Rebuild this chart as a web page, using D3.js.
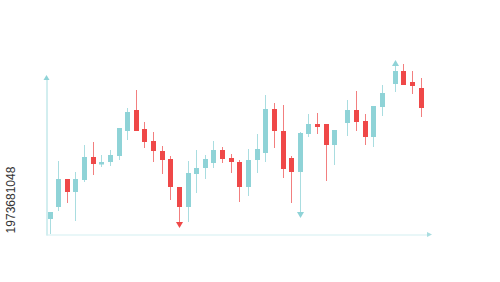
<!DOCTYPE html>
<html>
<head>
<meta charset="utf-8">
<script src="https://cdn.jsdelivr.net/npm/d3@7"></script>
<style>
  body { margin: 0; background: #fff; }
  svg { display: block; }
</style>
</head>
<body>
<div id="chart"></div>
<script>
// candle slots (trading days; two short breaks in the series)
var slots = [0,1,2,3,4,5,6,7,8,9,10,11,12,13,14,15,16,17,18,19,20,21,22,23,24,25,26,27,28,29,30,31,32,33,
             34.5,35.5,36.5,37.5,38.5,40,41,42,43];
var opens  = [21,33,61,48,60,83,75.5,78,84,109,130,111,99,89,81,53,33,66,72,77,90,82,78,53,80,87,131,109,82,68,106,116,116,95,117,130,119,103,133,156,169,158,152];
var highs  = [28,79,61,68,95,98,85,90,112,132,150,118,108,94,84,53,79,90,85,99,93,86,80,91,106,145,137,135,84,108,126,127,116,110,140,149,126,134,155,180,176,169,162];
var lows   = [6,29,37,19,58,65,73,74,80,100,109,92,78,66,40,12,18,47,61,72,77,67,38,44,67,78,92,62,37,22,103,106,59,75,104,109,95,93,124,148,155,146,123];
var closes = [28,61,48,61,83,76,78,85,112,128,109,98,89,80,53,33,67,72,81,90,81,78,53,80,91,131,109,71,68,107,116,113,95,110,130,118,103,134,147,169,155,154,132];
// candles whose wick ends in an arrow: [index, "high" | "low"]
var arrows = [[15, "low"], [29, "low"], [39, "high"]];
var imageId = "1973681048";

var width = 500, height = 282;
var upColor = "#8fd3d7", upWick = "#a9dde0";
var downColor = "#ef4848", downWick = "#f27f7f";

var svg = d3.select("#chart").append("svg")
    .attr("width", width)
    .attr("height", height);

var x = d3.scaleLinear().domain([0, 43]).range([49.5, 420.6]);
var y = d3.scaleLinear().domain([0, 180]).range([240, 60]);

// axes
var yAxisScale = d3.scaleLinear().domain([0, 1]).range([235, 78]);
var xAxisScale = d3.scaleLinear().domain([0, 1]).range([46, 428]);

var gy = svg.append("g")
    .attr("transform", "translate(46.5,0)")
    .call(d3.axisLeft(yAxisScale).ticks(0).tickSizeOuter(0));
gy.select(".domain").attr("stroke", "#a6dde0").attr("stroke-width", 1);

var gx = svg.append("g")
    .attr("transform", "translate(0,234.5)")
    .call(d3.axisBottom(xAxisScale).ticks(0).tickSizeOuter(0));
gx.select(".domain").attr("stroke", "#d3eff1").attr("stroke-width", 1);

// axis arrow heads
svg.append("path")
    .attr("d", "M46.5,75 L43.5,80 L49.5,80 Z")
    .attr("fill", "#8fd3d7");
svg.append("path")
    .attr("d", "M432,234.5 L427,232 L427,237 Z")
    .attr("fill", "#a9dde0");

var data = slots.map(function(s, i){
    return {s: s, o: opens[i], h: highs[i], l: lows[i], c: closes[i], up: closes[i] >= opens[i]};
});
var arrowMap = {};
arrows.forEach(function(a){ arrowMap[a[0]] = a[1]; });

var candles = svg.append("g").selectAll("g")
    .data(data)
    .enter().append("g");

// wicks
candles.append("line")
    .attr("x1", function(d){ return Math.round(x(d.s)) + 0.5; })
    .attr("x2", function(d){ return Math.round(x(d.s)) + 0.5; })
    .attr("y1", function(d, i){ return y(d.h) + (arrowMap[i] === "high" ? 5 : 0); })
    .attr("y2", function(d, i){ return y(d.l) - (arrowMap[i] === "low" ? 5 : 0); })
    .attr("stroke", function(d){ return d.up ? upWick : downWick; })
    .attr("stroke-width", 1);

// bodies
candles.append("rect")
    .attr("x", function(d){ return Math.round(x(d.s)) - 2; })
    .attr("width", 5)
    .attr("y", function(d){ return y(Math.max(d.o, d.c)); })
    .attr("height", function(d){ return Math.max(2, y(Math.min(d.o, d.c)) - y(Math.max(d.o, d.c))); })
    .attr("fill", function(d){ return d.up ? upColor : downColor; });

// arrow heads on the extreme candles
svg.append("g").selectAll("path")
    .data(arrows)
    .enter().append("path")
    .attr("d", function(a){
        var d = data[a[0]];
        var cx = Math.round(x(d.s)) + 0.5;
        if(a[1] === "low"){
            var yl = y(d.l);
            return "M"+cx+" "+yl+" L"+(cx-3.5)+" "+(yl-6)+" L"+(cx+3.5)+" "+(yl-6)+"Z";
        }
        var yh = y(d.h);
        return "M"+cx+" "+yh+" L"+(cx-3.5)+" "+(yh+6)+" L"+(cx+3.5)+" "+(yh+6)+"Z";
    })
    .attr("fill", function(a){ return data[a[0]].up ? upColor : downColor; });

// stock image id along the left edge
svg.append("text")
    .attr("transform", "translate(15,200) rotate(-90)")
    .attr("text-anchor", "middle")
    .attr("font-family", "Liberation Sans, Arial, sans-serif")
    .attr("font-size", "12px")
    .attr("fill", "#333")
    .text(imageId);
</script>
</body>
</html>
